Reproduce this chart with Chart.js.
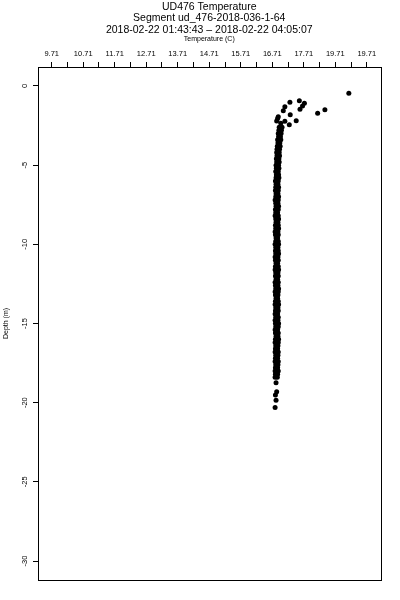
<!DOCTYPE html>
<html>
<head>
<meta charset="utf-8">
<script src="https://cdn.jsdelivr.net/npm/chart.js@4"></script>
<style>
  body { margin: 0; background: #fff; }
  canvas { display: block; }
</style>
</head>
<body>
<canvas id="tempChart" width="400" height="600"></canvas>
<script>
'use strict';

var titleLines = ['UD476 Temperature', 'Segment ud_476-2018-036-1-64', '2018-02-22 01:43:43 \u2013 2018-02-22 04:05:07'];
var xTitle = 'Temperature (C)';
var yTitle = 'Depth (m)';

// top axis: ticks every half degree, labels on the whole ones (as printed)
var xTicks = [9.71, 10.21, 10.71, 11.21, 11.71, 12.21, 12.71, 13.21, 13.71, 14.21, 14.71,
  15.21, 15.71, 16.21, 16.71, 17.21, 17.71, 18.21, 18.71, 19.21, 19.71];
var xTickLabels = ['9.71', '', '10.71', '', '11.71', '', '12.71', '', '13.71', '', '14.71',
  '', '15.71', '', '16.71', '', '17.71', '', '19.71', '', '19.71'];
var yTicks = [0, -5, -10, -15, -20, -25, -30];
var yTickLabels = ['0', '-5', '-10', '-15', '-20', '-25', '-30'];

// near-surface scatter
var surfaceDepth = [-0.46, -1.50, -1.72, -1.09, -1.26, -0.93, -1.47, -1.03, -1.31, -1.56,
  -1.81, -2.19, -2.44, -2.23, -1.94, -2.21, -2.06, -2.35];
var surfaceTemp = [19.14, 18.38, 18.15, 17.73, 17.67, 17.57, 17.59, 17.27, 17.11, 17.06,
  17.28, 17.47, 17.25, 17.11, 16.90, 16.85, 16.88, 16.98];

// the main column, two readings per depth step
var columnDepth = [
  -2.6, -2.8, -3.0, -3.2, -3.4, -3.6, -3.8, -4.0, -4.2, -4.4,
  -4.6, -4.8, -5.0, -5.2, -5.4, -5.6, -5.8, -6.0, -6.2, -6.4,
  -6.6, -6.8, -7.0, -7.2, -7.4, -7.6, -7.8, -8.0, -8.2, -8.4,
  -8.6, -8.8, -9.0, -9.2, -9.4, -9.6, -9.8, -10.0, -10.2, -10.4,
  -10.6, -10.8, -11.0, -11.2, -11.4, -11.6, -11.8, -12.0, -12.2, -12.4,
  -12.6, -12.8, -13.0, -13.2, -13.4, -13.6, -13.8, -14.0, -14.2, -14.4,
  -14.6, -14.8, -15.0, -15.2, -15.4, -15.6, -15.8, -16.0, -16.2, -16.4,
  -16.6, -16.8, -17.0, -17.2, -17.4, -17.6, -17.8, -18.0, -18.2, -18.4];
var columnTempA = [
  16.93, 16.92, 16.90, 16.91, 16.88, 16.89, 16.87, 16.86, 16.85, 16.86,
  16.84, 16.85, 16.83, 16.84, 16.82, 16.84, 16.83, 16.81, 16.83, 16.82,
  16.81, 16.83, 16.82, 16.80, 16.82, 16.83, 16.81, 16.82, 16.80, 16.82,
  16.83, 16.81, 16.82, 16.80, 16.81, 16.83, 16.82, 16.80, 16.82, 16.81,
  16.82, 16.80, 16.81, 16.83, 16.81, 16.80, 16.82, 16.81, 16.83, 16.80,
  16.81, 16.82, 16.80, 16.81, 16.83, 16.81, 16.80, 16.82, 16.81, 16.80,
  16.82, 16.80, 16.81, 16.82, 16.80, 16.81, 16.83, 16.81, 16.80, 16.82,
  16.81, 16.80, 16.82, 16.81, 16.80, 16.82, 16.81, 16.80, 16.81, 16.80];
var columnTempB = [
  17.02, 17.00, 16.99, 16.97, 16.98, 16.95, 16.96, 16.94, 16.93, 16.94,
  16.92, 16.93, 16.91, 16.92, 16.90, 16.91, 16.92, 16.90, 16.89, 16.91,
  16.90, 16.89, 16.91, 16.90, 16.89, 16.91, 16.90, 16.88, 16.90, 16.91,
  16.89, 16.90, 16.91, 16.89, 16.90, 16.88, 16.90, 16.91, 16.89, 16.90,
  16.91, 16.89, 16.90, 16.88, 16.90, 16.91, 16.89, 16.90, 16.88, 16.90,
  16.89, 16.91, 16.90, 16.89, 16.88, 16.90, 16.91, 16.89, 16.90, 16.88,
  16.90, 16.89, 16.91, 16.90, 16.88, 16.90, 16.89, 16.91, 16.90, 16.89,
  16.88, 16.90, 16.89, 16.88, 16.90, 16.89, 16.88, 16.90, 16.88, 16.87];

// loose points under the column
var tailDepth = [-18.74, -19.31, -19.52, -19.84, -20.30];
var tailTemp = [16.83, 16.85, 16.81, 16.83, 16.80];

var points = [];
for (var i = 0; i < surfaceDepth.length; i++) {
  points.push({ x: surfaceTemp[i], y: surfaceDepth[i] });
}
for (var j = 0; j < columnDepth.length; j++) {
  points.push({ x: columnTempA[j], y: columnDepth[j] });
  points.push({ x: columnTempB[j], y: columnDepth[j] });
}
for (var k = 0; k < tailDepth.length; k++) {
  points.push({ x: tailTemp[k], y: tailDepth[k] });
}

var FONT = "'Liberation Sans', Arial, sans-serif";

// box around the plot, titles centred over the plot, rotated y labels like R
var framePlugin = {
  id: 'frame',
  afterDraw: function (chart) {
    var ctx = chart.ctx;
    var area = chart.chartArea;
    var yScale = chart.scales.y;
    var cx = (area.left + area.right) / 2;
    ctx.save();
    ctx.strokeStyle = '#000';
    ctx.lineWidth = 1;
    ctx.strokeRect(Math.round(area.left) + 0.5, Math.round(area.top) + 0.5,
      Math.round(area.right - area.left), Math.round(area.bottom - area.top));

    ctx.fillStyle = '#000';
    ctx.textAlign = 'center';
    ctx.textBaseline = 'middle';
    ctx.font = '10.5px ' + FONT;
    var titleY = [7, 18.5, 30];
    for (var t = 0; t < titleLines.length; t++) {
      ctx.fillText(titleLines[t], cx, titleY[t]);
    }
    ctx.font = '7px ' + FONT;
    ctx.fillText(xTitle, cx, 39);

    ctx.font = '7.5px ' + FONT;
    for (var n = 0; n < yTicks.length; n++) {
      var py = yScale.getPixelForValue(yTicks[n]);
      ctx.save();
      ctx.translate(25, py);
      ctx.rotate(-Math.PI / 2);
      ctx.fillText(yTickLabels[n], 0, 0);
      ctx.restore();
    }
    ctx.restore();
  }
};

var ctx = document.getElementById('tempChart').getContext('2d');
var chart = new Chart(ctx, {
  type: 'scatter',
  data: {
    datasets: [{
      label: 'Temperature',
      data: points,
      backgroundColor: '#000',
      borderWidth: 0,
      pointRadius: 2.5,
      pointHoverRadius: 2.5
    }]
  },
  options: {
    responsive: false,
    animation: false,
    devicePixelRatio: 1,
    layout: { padding: { top: 37, left: 0, right: 19.5, bottom: 20 } },
    plugins: {
      legend: { display: false },
      tooltip: { enabled: false },
      title: { display: false }
    },
    scales: {
      x: {
        type: 'linear',
        position: 'top',
        min: 9.275,
        max: 20.145,
        afterBuildTicks: function (scale) {
          scale.ticks = xTicks.map(function (v) { return { value: v }; });
        },
        afterFit: function (scale) { scale.height = 30; },
        ticks: {
          color: '#000',
          font: { family: FONT, size: 7.5 },
          padding: 4,
          maxRotation: 0,
          autoSkip: false,
          callback: function (value, index) { return xTickLabels[index]; }
        },
        grid: { drawOnChartArea: false, drawTicks: true, tickLength: 5, color: '#000' },
        border: { display: true, color: '#000' }
      },
      y: {
        type: 'linear',
        position: 'left',
        min: -31.2,
        max: 1.2,
        afterBuildTicks: function (scale) {
          scale.ticks = yTicks.map(function (v) { return { value: v }; });
        },
        afterFit: function (scale) { scale.width = 38; },
        ticks: { display: false },
        title: {
          display: true,
          text: yTitle,
          color: '#000',
          font: { family: FONT, size: 7 },
          padding: { top: 1.5, bottom: 0 }
        },
        grid: { drawOnChartArea: false, drawTicks: true, tickLength: 5, color: '#000' },
        border: { display: true, color: '#000' }
      }
    }
  },
  plugins: [framePlugin]
});
</script>
</body>
</html>
